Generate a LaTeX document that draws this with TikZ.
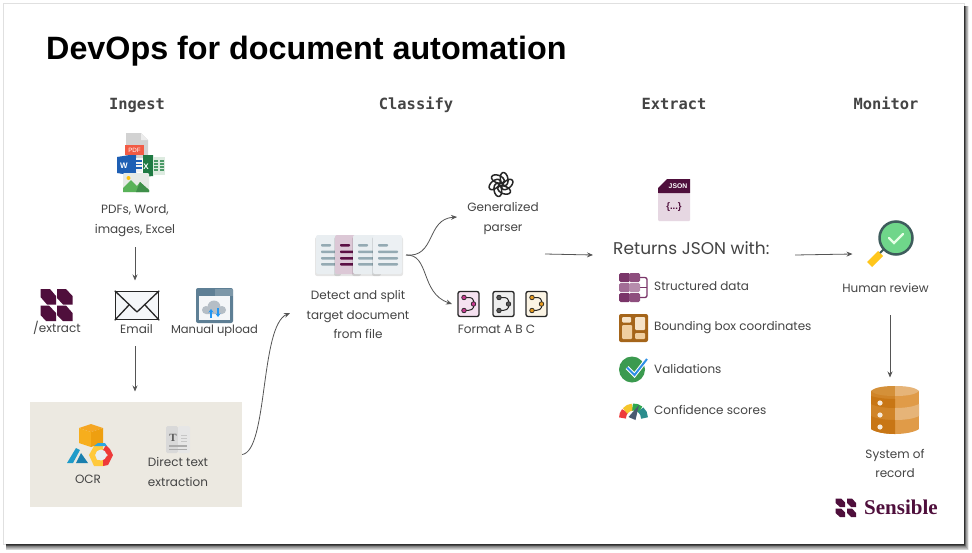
\documentclass[tikz,border=0pt]{standalone}
\usepackage{fontspec}
\setmainfont{Poppins}
\newfontfamily\titlefont{Liberation Sans}
\newfontfamily\headfont{DejaVu Sans Mono}
\newfontfamily\brandfont{Liberation Serif}
\usetikzlibrary{arrows.meta,shapes.geometric}
\definecolor{txt}{HTML}{444444}
\definecolor{conn}{HTML}{555555}
\definecolor{plum}{HTML}{4F0F3C}
\definecolor{sand}{HTML}{ECE9E1}
\tikzset{
  HTML/.code={\edef\rskdef{\noexpand\definecolor{tmpc}{HTML}{#1}}\rskdef\tikzset{color=tmpc}},
  HF/.code={\edef\rskdef{\noexpand\definecolor{tmpf}{HTML}{#1}}\rskdef\tikzset{fill=tmpf}},
  lbl/.style={font=\fontsize{12}{19.5}\selectfont,text=txt,align=center,inner sep=0pt},
  lblleft/.style={lbl,anchor=west},
  head/.style={font=\headfont\bfseries\fontsize{15.4}{18}\selectfont,text=txt,inner sep=0pt,anchor=base},
  conn/.style={draw=conn,line width=0.8pt,-{Stealth[length=6pt,width=5pt]}},
}
\begin{document}
\begin{tikzpicture}[x=1pt,y=-1pt]
\useasboundingbox (0,0) rectangle (972,552);
\fill[white] (0,0) rectangle (972,552);
% slide shadow
\fill[black,opacity=0.12] (3,2.5) rectangle (965,545);
\foreach \d/\o in {8/0.08,7/0.10,6/0.12,5/0.14,4/0.17,3/0.2,2/0.25,1/0.3}{
  \fill[black,opacity=\o] (6,6) rectangle (964+\d*0.6,544+\d*0.8);
}
\fill[white] (4,4) rectangle (964,544);
% OCR panel
\node[fill=sand,inner sep=0pt,minimum width=212pt,minimum height=105pt] (ocrbox) at (136,454.5) {};
% title and headers
\node[anchor=west,inner sep=0pt,font=\titlefont\bfseries\fontsize{32.3}{36}\selectfont,text=black] (title) at (46,51.5) {DevOps for document automation};
\node[head] (hingest) at (137,109) {Ingest};
\node[head] (hclassify) at (416,109) {Classify};
\node[head] (hextract) at (674,109) {Extract};
\node[head] (hmonitor) at (886,109) {Monitor};

% ---- files icon
\fill[gray!35] (126,133) -- (141,133) -- (148,140) -- (148,158) -- (126,158) -- cycle;
\fill[gray!15] (141,133) -- (148,140) -- (141,140) -- cycle;
\fill[HTML={1E5FB4}] (117,157) -- (136,154) -- (136,176) -- (117,173) -- cycle;
\fill[white!90!gray] (136,158) rectangle (142,172);
\foreach \yy in {160,163.5,167}{\fill[HTML={1E5FB4}] (131,\yy) rectangle (142,\yy+1.6);}
\node[inner sep=0pt,text=white,font=\titlefont\bfseries\fontsize{8}{8}\selectfont] (wordw) at (124,165.5) {W};
\fill[HTML={1F7A43}] (143,155) -- (153,155) -- (153,176) -- (143,177) -- cycle;
\fill[HTML={DDEBE0}] (153,157) rectangle (165,175);
\foreach \yy in {160,163,166,169}{\fill[HTML={4C9A68}] (154,\yy) rectangle (158,\yy+1.6);\fill[HTML={4C9A68}] (160,\yy) rectangle (164,\yy+1.6);}
\node[inner sep=0pt,text=white,font=\titlefont\bfseries\fontsize{8}{8}\selectfont] (excelx) at (146,167) {X};
\fill[HTML={F25B45}] (125,145) rectangle (144,155);
\node[inner sep=0pt,text=white,font=\titlefont\fontsize{6.2}{6}\selectfont] (pdft) at (134.5,150) {PDF};
\fill[HTML={E6EAE6},rounded corners=1pt] (123,173) rectangle (149,192);
\fill[HTML={FFC107}] (128.5,178) circle (2pt);
\fill[HTML={59B259}] (123,192) -- (123,188) -- (131,180) -- (137,186) -- (140,182) -- (149,190) -- (149,192) -- cycle;
\fill[HTML={3F8F4A}] (136,192) -- (140,182) -- (149,190) -- (149,192) -- cycle;
\node[lbl] (files) at (135,220.5) {PDFs, Word,\\images, Excel};

% ---- extract logo
\fill[plum] (40.5,289) -- (50,289) -- (56,296) -- (56,304.5) -- (47,304.5) -- (40.5,297) -- cycle;
\fill[plum] (57,289) -- (66,289) -- (72.5,296) -- (72.5,304.5) -- (63,304.5) -- (57,298) -- cycle;
\fill[plum] (40.5,305.5) -- (49,305.5) -- (56,313) -- (56,321) -- (46,321) -- (40.5,315) -- cycle;
\fill[plum] (57,305.5) -- (66,305.5) -- (72.5,313) -- (72.5,321) -- (63,321) -- (57,315) -- cycle;
\node[lbl] (extract) at (57,328) {/extract};

% ---- email
\node[draw=black!85,line width=1.5pt,HF=F5F7F9,inner sep=0pt,minimum width=43pt,minimum height=28pt] (emailicon) at (137,305.5) {};
\draw[black!85,line width=1.3pt,line join=round] (emailicon.north west) -- (137,312) -- (emailicon.north east);
\draw[black!85,line width=1.3pt] (emailicon.south west) -- (129,305);
\draw[black!85,line width=1.3pt] (emailicon.south east) -- (145,305);
\node[lbl] (email) at (136.5,329) {Email};

% ---- manual upload
\fill[HTML={5E7F95},rounded corners=2pt] (196,288) rectangle (233,323);
\fill[HTML={7C97A8}] (215,289) rectangle (233,296);
\fill[HTML={F4F6F8}] (199,296) rectangle (230,320);
\fill[HTML={B5BEC6}] (206,310) circle (4pt) (214,307) circle (6.5pt) (222,310) circle (4pt) (206,310) rectangle (222,314);
\draw[HTML={2196F3},line width=1.6pt,-{Stealth[length=3.5pt,width=5pt]}] (211,318) -- (211,309);
\draw[HTML={2196F3},line width=1.6pt,-{Stealth[length=3.5pt,width=5pt]}] (218,308) -- (218,317);
\node[lbl,font=\fontsize{11.5}{19.5}\selectfont] (manual) at (214.5,331) {Manual upload};

% ---- OCR icons
\fill[HTML={F5A623}] (79,428) -- (91,424) -- (103,428) -- (91,432) -- cycle;
\fill[HTML={F7AE1D}] (79,428) -- (91,432) -- (91,447) -- (79,443) -- cycle;
\fill[HTML={EE9F10}] (103,428) -- (91,432) -- (91,447) -- (103,443) -- cycle;
\fill[HTML={1F9BC9}] (67,463) -- (76,448) -- (80,450) -- (73,463) -- cycle;
\fill[HTML={1A7FAE}] (76,463) -- (81,453) -- (88,463) -- cycle;
\fill[HTML={FFC93C}] (89,455) -- (94,446) -- (103,446) -- (103,450) -- (97,451) -- (95,455) -- (97,460) -- (103,460) -- (103,466) -- (94,466) -- cycle;
\fill[HTML={EE3A3A}] (103,450) -- (106,445) -- (110,449) -- (113,455) -- (108,465) -- (103,466) -- (103,460) -- (108,455) -- cycle;
\fill[HTML={2DA7E0}] (94,446) -- (98,443) -- (105,443) -- (107,446) -- cycle;
\fill[HTML={E8EEF2}] (101,455) circle (5.5pt);
\node[lbl] (ocr) at (88,479.5) {OCR};
\fill[HTML={D9D9D9},rounded corners=1.5pt] (166,426) rectangle (178,453);
\fill[HTML={E6E6E6},rounded corners=1.5pt] (178,426) rectangle (190,453);
\node[inner sep=0pt,text=black!65,font=\brandfont\bfseries\fontsize{11}{11}\selectfont] (tglyph) at (173,438) {T};
\foreach \yy in {435,438,441}{\fill[gray!45] (181,\yy) rectangle (187,\yy+0.9);}
\fill[gray!65] (169,445) rectangle (187,446.5);
\fill[gray!65] (169,448.5) rectangle (187,450);
\node[lbl] (direct) at (178,472) {Direct text\\extraction};

% ---- docs stack
\begin{scope}
\foreach \xa/\xb/\col/\lc in {316/340/E9EEF1/94AAB3,335/360/DCC8D6/5B0F44,353/380/E9EEF1/94AAB3,373/402/ECF0F3/94AAB3}{
  \fill[black,opacity=0.10,rounded corners=2pt] (\xa-1,237) rectangle (\xb+1,276);
  \fill[HTML=\col,rounded corners=2pt] (\xa,235) rectangle (\xb,274);
  \fill[HTML=\lc,rounded corners=0.8pt] (\xa+5,244) rectangle (\xa+15,246.5);
  \foreach \yy in {250.5,257,263}{\fill[HTML=\lc,rounded corners=0.8pt] (\xa+5,\yy) rectangle (\xb-4,\yy+2.5);}
}
\end{scope}
\node[inner sep=0pt,minimum width=86pt,minimum height=39pt] (docs) at (359,254.5) {};
\node[lbl] (detect) at (358,314.5) {Detect and split\\target document\\from file};

% ---- generalized parser logo
\begin{scope}[shift={(501,184.5)}]
\foreach \a in {0,60,...,300}{
  \draw[black!85,line width=1.5pt,rotate=\a,shift={(6.3,0)},rotate=40] (0,0) ellipse[x radius=6.6pt,y radius=3.8pt];
}
\end{scope}
\node[lbl] (parser) at (503,218.5) {Generalized\\parser};

% ---- format icons
\foreach \xa/\col/\dot in {458/F5E1F0/C8388F,493/EEEEEE/555555,526/FBF4E4/E59A1F}{
  \draw[black!85,HF=\col,line width=1.3pt,rounded corners=2pt] (\xa,291.5) rectangle (\xa+21,316.5);
  \draw[black!85,line width=1pt] (\xa+6,297.5) -- (\xa+12,297.5) .. controls (\xa+16,297.5) and (\xa+16,304) .. (\xa+16,304) .. controls (\xa+16,310) and (\xa+13,310.5) .. (\xa+6,310.5);
  \draw[black!85,HF=\dot,line width=0.7pt] (\xa+6,297.5) circle (2.3pt) (\xa+15.5,304) circle (2.3pt) (\xa+6,310.5) circle (2.3pt);
}
\node[lbl] (formats) at (496.5,329.5) {Format A B C};
\node[inner sep=0pt,minimum width=89pt,minimum height=26pt] (formaticons) at (502.5,304) {};

% ---- JSON icon
\fill[HTML={E6D7E2},rounded corners=1pt] (658,193) rectangle (690,221);
\fill[plum] (658,193) -- (658,188) -- (667,179) -- (690,179) -- (690,193) -- cycle;
\node[inner sep=0pt,text=white,font=\titlefont\bfseries\fontsize{6.8}{7}\selectfont] (jsont) at (678,186.5) {JSON};
\node[inner sep=0pt,text=plum,font=\titlefont\bfseries\fontsize{9.5}{10}\selectfont] (jsonb) at (674,207.5) {\{...\}};
\node[lblleft,font=\fontsize{17}{18}\selectfont] (returns) at (613,248) {Returns JSON with:};

% ---- structured data
\draw[HTML={7A3569},line width=1.3pt,rounded corners=2pt] (640,277.5) -- (647,277.5) -- (647,297.5) -- (640,297.5);
\draw[HTML={7A3569},line width=1.3pt] (640,287.5) -- (647,287.5);
\foreach \yy/\ca/\cb in {273/7A3569/8E4E7E,283/A26D96/B68CAC,293/7A3569/8E4E7E}{
  \fill[HTML=\ca,rounded corners=1.5pt] (619,\yy) rectangle (630,\yy+9);
  \fill[HTML=\cb,rounded corners=1.5pt] (629,\yy) rectangle (640,\yy+9);
}
\node[lblleft] (structured) at (654,286) {Structured data};

% ---- bounding box
\fill[HTML={A5651A},rounded corners=2pt] (619,314) rectangle (648,342);
\fill[HTML={F6E3C8},rounded corners=1pt] (622,317) rectangle (631,322.5);
\fill[HTML={F0CFA1},rounded corners=1pt] (622,325) rectangle (632,339);
\fill[HTML={F6E3C8},rounded corners=1pt] (635,317) rectangle (645,330);
\fill[HTML={F0CFA1},rounded corners=1pt] (635,333) rectangle (645,339);
\node[lblleft] (bounding) at (654,328) {Bounding box coordinates};

% ---- validations
\fill[HTML={3B9A4F}] (632,369.5) circle (13pt);
\draw[white,line width=4pt] (627,367.5) -- (634.5,375) -- (647,359);
\draw[HTML={2E8FE6},line width=2pt] (627,367.5) -- (634.5,375) -- (647,359);
\node[lblleft] (validations) at (654,369) {Validations};

% ---- confidence
\coordinate (gc) at (633.5,418);
\foreach \sa/\ea/\col in {180/140/EE3B3B,140/95/F5C52B,95/50/2FA84F,50/0/2A8C8C}{
  \draw[HTML=\col,line width=7pt] (gc) ++(\sa:11pt) arc[start angle=\sa,end angle=\ea,radius=11pt];
}
\fill[HTML={4A5A70}] (628.5,417) -- (639,405) -- (635.5,420) -- cycle;
\node[lblleft] (confidence) at (654,410) {Confidence scores};

% ---- human review
\fill[HTML={FFC61B}] (867,262) -- (878,251) -- (883,256) -- (872,267) -- cycle;
\draw[HTML={3E5C5C},line width=2pt] (880,253) -- (884,249);
\fill[HTML={6FD68A}] (896,238) circle (16pt);
\draw[HTML={3E5C5C},line width=2.5pt] (896,238) circle (16.5pt);
\draw[white!90!green,line width=2.2pt,line cap=round] (889,238) -- (894,243) -- (903,234);
\node[lbl] (human) at (885.5,288) {Human review};

% ---- database
\fill[HTML={D08428}] (871,391) rectangle (895,429);
\fill[HTML={E09B48}] (895,391) rectangle (919,429);
\fill[HTML={D08428}] (871,429) .. controls (875,432) and (885,434) .. (895,434) -- (895,429) -- cycle;
\fill[HTML={E09B48}] (919,429) .. controls (915,432) and (905,434) .. (895,434) -- (895,429) -- cycle;
\fill[HTML={D49039}] (871,391) .. controls (875,387) and (885,386) .. (895,386) -- (895,396) .. controls (885,396) and (875,395) .. (871,391) -- cycle;
\fill[HTML={E6B478}] (919,391) .. controls (915,387) and (905,386) .. (895,386) -- (895,396) .. controls (905,396) and (915,395) .. (919,391) -- cycle;
\fill[HTML={C87615}] (871,396) .. controls (877,398) and (886,399) .. (895,399) -- (895,408) .. controls (886,408) and (877,407) .. (871,404) -- cycle;
\fill[HTML={E6B478}] (919,404) .. controls (913,407) and (904,408) .. (895,408) -- (895,420) .. controls (904,420) and (913,419) .. (919,416) -- cycle;
\fill[HTML={C87615}] (871,416) .. controls (877,419) and (886,420) .. (895,420) -- (895,434) .. controls (885,434) and (875,432) .. (871,429) -- cycle;
\fill[HTML={F7EBDB}] (880,403) circle (2.6pt) (880,415) circle (2.6pt) (880,427) circle (2.6pt);
\node[lbl] (system) at (895,463.5) {System of\\record};

% ---- Sensible brand
\fill[plum] (835.5,498.5) -- (841,498.5) -- (845,502.5) -- (845,507) -- (840,507) -- (835.5,503) -- cycle;
\fill[plum] (847,498.5) -- (852,498.5) -- (856,503) -- (856,507) -- (851,507) -- (847,503) -- cycle;
\fill[plum] (835.5,508.5) -- (841,508.5) -- (845,512.5) -- (845,517) -- (840,517) -- (835.5,513) -- cycle;
\fill[plum] (847,508.5) -- (852,508.5) -- (856,513) -- (856,517) -- (851,517) -- (847,513) -- cycle;
\node[anchor=west,inner sep=0pt,text=plum,font=\brandfont\bfseries\fontsize{21}{22}\selectfont] (brand) at (864,507.5) {Sensible};

% ---- connector end points
\coordinate (afiles) at (135,247);
\coordinate (aemailtop) at (135,280.5);
\coordinate (aemailout) at (135,346);
\coordinate (aocrtop) at (135,391.5);
\coordinate (adetect) at (290,313);
\coordinate (adocs) at (406,255);
\coordinate (aparser) at (457,217);
\coordinate (aformat) at (452,304);
\coordinate (aclassout) at (545,254);
\coordinate (aextract) at (593,255);
\coordinate (aretout) at (795,255);
\coordinate (ahuman) at (852.5,254);
\coordinate (ahumanout) at (890,315);
\coordinate (adb) at (890,377.5);

\draw[conn] (afiles) -- (aemailtop);
\draw[conn] (aemailout) -- (aocrtop);
\draw[conn] (ocrbox.east) .. controls (268,451) and (260,326) .. (adetect);
\draw[conn] (adocs) .. controls (436,258) and (426,219) .. (aparser);
\draw[conn] (adocs) .. controls (430,254) and (420,293) .. (aformat);
\draw[conn] (aclassout) -- (aextract);
\draw[conn] (aretout) -- (ahuman);
\draw[conn] (ahumanout) -- (adb);
\end{tikzpicture}
\end{document}
